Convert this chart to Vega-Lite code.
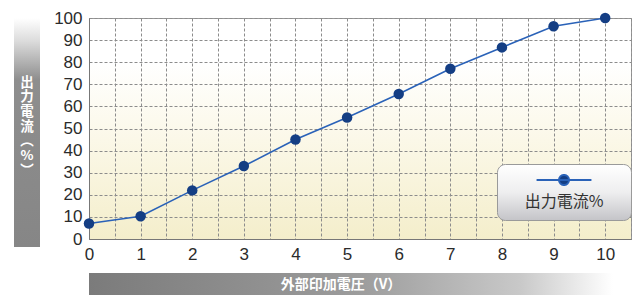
{
  "$schema": "https://vega.github.io/schema/vega-lite/v6.json",
  "padding": {"left": 14, "top": 8, "right": 0, "bottom": 0},
  "background": "white",
  "config": {"view": {"stroke": null}, "font": "Liberation Sans"},
  "spacing": 13,
  "hconcat": [
    {
      "width": 26,
      "height": 229,
      "view": {"stroke": null, "fill": {"gradient": "linear", "x1": 0, "y1": 0, "x2": 0, "y2": 1, "stops": [
        {"offset": 0, "color": "#ffffff"},
        {"offset": 0.1, "color": "#dcdcdc"},
        {"offset": 0.27, "color": "#8e8e8e"},
        {"offset": 1, "color": "#868686"}
      ]}},
      "data": {"values": [{}]},
      "mark": {"type": "text", "text": ["出", "力", "電", "流", "︵", "%", "︶"], "color": "white", "font": "Noto Sans CJK JP", "fontWeight": "bold", "fontSize": 13.5, "lineHeight": 14.7, "align": "center", "baseline": "middle", "dy": -50},
      "encoding": {}
    },
    {
      "bounds": "flush",
      "spacing": 34,
      "vconcat": [
        {
          "width": 542,
          "height": 221,
          "view": {"stroke": "#999999", "strokeWidth": 1, "fill": {"gradient": "linear", "x1": 0, "y1": 0, "x2": 0, "y2": 1, "stops": [
            {"offset": 0, "color": "#ffffff"},
            {"offset": 0.2, "color": "#ffffff"},
            {"offset": 0.55, "color": "#fbf8e8"},
            {"offset": 1, "color": "#f4eecb"}
          ]}},
          "data": {"values": [
            {"v": 0, "pct": 7, "series": "出力電流%"},
            {"v": 1, "pct": 10.3, "series": "出力電流%"},
            {"v": 2, "pct": 22, "series": "出力電流%"},
            {"v": 3, "pct": 33, "series": "出力電流%"},
            {"v": 4, "pct": 45, "series": "出力電流%"},
            {"v": 5, "pct": 55, "series": "出力電流%"},
            {"v": 6, "pct": 65.6, "series": "出力電流%"},
            {"v": 7, "pct": 77, "series": "出力電流%"},
            {"v": 8, "pct": 86.7, "series": "出力電流%"},
            {"v": 9, "pct": 96.3, "series": "出力電流%"},
            {"v": 10, "pct": 100, "series": "出力電流%"}
          ]},
          "encoding": {
            "x": {"field": "v", "type": "quantitative",
              "scale": {"domain": [0, 10.5], "nice": false, "zero": false},
              "axis": {"values": [0, 0.5, 1, 1.5, 2, 2.5, 3, 3.5, 4, 4.5, 5, 5.5, 6, 6.5, 7, 7.5, 8, 8.5, 9, 9.5, 10, 10.5],
                "labelExpr": "datum.value % 1 === 0 ? format(datum.value, 'd') : ''",
                "title": null, "ticks": false, "labelPadding": 7, "labelFlush": false, "labelOverlap": false,
                "labelFontSize": 17, "labelColor": "#2b2b2b", "domainColor": "#777777",
                "grid": true, "gridColor": "#8c8c8c", "gridDash": [3, 2]}},
            "y": {"field": "pct", "type": "quantitative",
              "scale": {"domain": [0, 100], "nice": false},
              "axis": {"values": [0, 10, 20, 30, 40, 50, 60, 70, 80, 90, 100],
                "title": null, "ticks": false, "labelPadding": 7, "labelOverlap": false,
                "labelFontSize": 17, "labelColor": "#2b2b2b", "domainColor": "#777777",
                "grid": true, "gridColor": "#8c8c8c", "gridDash": [3, 2]}}
          },
          "layer": [
            {
              "mark": {"type": "line", "strokeWidth": 1.6},
              "encoding": {
                "color": {"field": "series", "type": "nominal", "scale": {"range": ["#2a62b8"]},
                  "legend": {
                    "orient": "none", "legendX": 483, "legendY": 146,
                    "title": "出力電流%", "titleOrient": "bottom", "titleAnchor": "middle",
                    "titleFont": "Noto Sans CJK JP", "titleFontSize": 16, "titleFontWeight": "normal",
                    "titleColor": "#333333", "titlePadding": 8,
                    "labelExpr": "''", "labelOffset": 0,
                    "symbolType": "M-0.49,0H0.49M-0.09,0A0.09,0.09,0,1,0,0.09,0A0.09,0.09,0,1,0,-0.09,0Z",
                    "symbolSize": 12544, "clipHeight": 12, "symbolStrokeWidth": 2,
                    "padding": 10, "cornerRadius": 8, "strokeColor": "#9a9a9a",
                    "encode": {
                      "symbols": {"update": {"fill": {"value": "#143e84"}, "stroke": {"value": "#2a62b8"}, "strokeWidth": {"value": 2}, "opacity": {"value": 1}}},
                      "legend": {"update": {"fill": {"value": {"gradient": "linear", "x1": 0, "y1": 0, "x2": 0, "y2": 1, "stops": [
                        {"offset": 0, "color": "#ffffff"},
                        {"offset": 0.5, "color": "#eeeeef"},
                        {"offset": 1, "color": "#c4c4c8"}
                      ]}}}}
                    }
                  }}
              }
            },
            {
              "mark": {"type": "point", "filled": true, "size": 110, "opacity": 1, "color": "#143e84"}
            }
          ]
        },
        {
          "width": 540,
          "height": 24,
          "view": {"stroke": null, "fill": {"gradient": "linear", "x1": 0, "y1": 0, "x2": 1, "y2": 0, "stops": [
            {"offset": 0, "color": "#7b7b7b"},
            {"offset": 0.5, "color": "#9c9c9c"},
            {"offset": 0.8, "color": "#c9c9c9"},
            {"offset": 0.97, "color": "#ffffff"}
          ]}},
          "data": {"values": [{}]},
          "mark": {"type": "text", "text": "外部印加電圧（V）", "color": "white", "font": "Noto Sans CJK JP", "fontWeight": "bold", "fontSize": 14, "align": "center", "baseline": "middle", "dx": -18},
          "encoding": {}
        }
      ]
    }
  ]
}
